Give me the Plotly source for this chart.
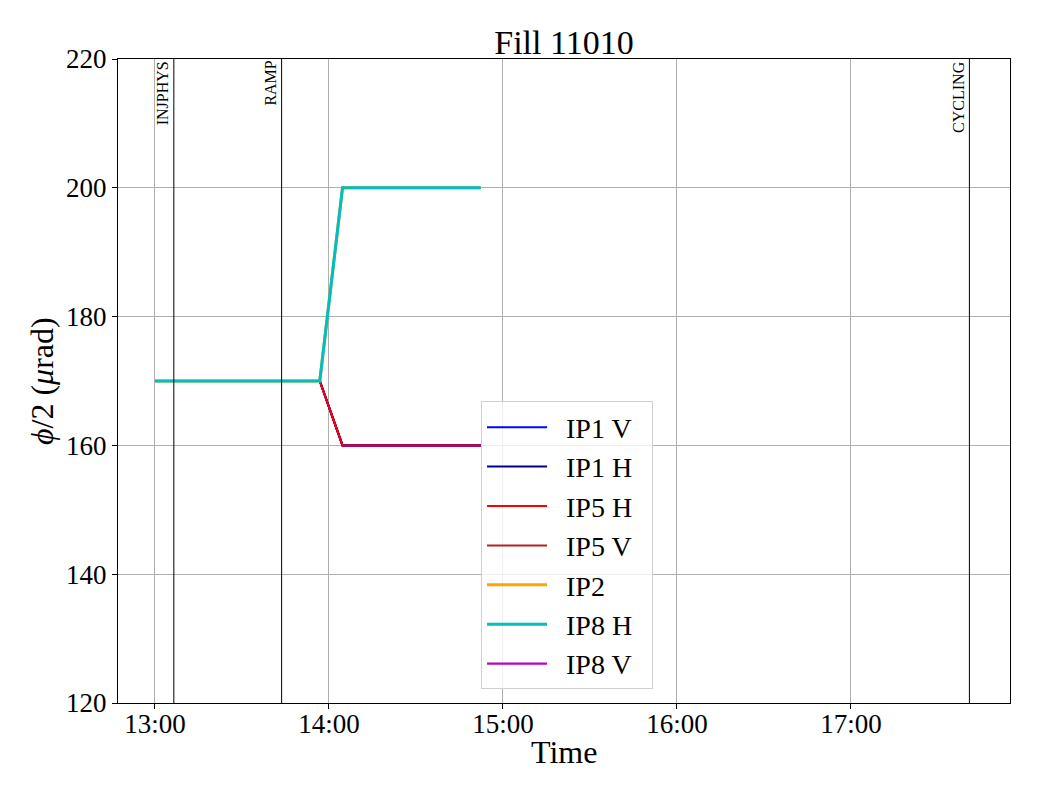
import plotly.graph_objects as go

day = "2024-06-01 "
t_down = ["13:00:00", "13:56:50", "14:04:40", "14:52:20"]
v_down = [170, 170, 160, 160]
t_up = ["13:00:00", "13:56:50", "14:04:40", "14:52:20"]
v_up = [170, 170, 200, 200]

series_names = ["IP1 V", "IP1 H", "IP5 H", "IP5 V", "IP2", "IP8 H", "IP8 V"]
series_colors = ["#0000ff", "#00008b", "#ff0000", "#b22222", "#ffa500", "#00bfbf", "#bf00bf"]
series_widths = [2, 2, 2, 2, 3, 3, 3]
series_path = ["down", "down", "down", "down", "up", "up", "down"]
draw_order = [3, 6, 0, 1, 2, 4, 5]

event_names = ["INJPHYS", "RAMP", "CYCLING"]
event_times = ["13:06:30", "13:43:40", "17:40:50"]

x_range = ["12:47:15", "17:54:50"]
y_range = [120, 220]
y_ticks = [120, 140, 160, 180, 200, 220]
x_ticks = ["13:00:00", "14:00:00", "15:00:00", "16:00:00", "17:00:00"]

fig = go.Figure()
for i in draw_order:
    name, col, w, p = series_names[i], series_colors[i], series_widths[i], series_path[i]
    if i == 6:
        w = 2.2
    if p == "down":
        xs, ys = [day + t for t in t_down], v_down
    else:
        xs, ys = [day + t for t in t_up], v_up
    fig.add_trace(go.Scatter(x=xs, y=ys, mode="lines", name="\u2002" + name + "\u2002",
                             legendrank=i + 1, line=dict(color=col, width=w)))

for name, t in zip(event_names, event_times):
    fig.add_shape(type="line", xref="x", yref="paper", x0=day + t, x1=day + t,
                  y0=0, y1=1, line=dict(color="black", width=1))
    fig.add_annotation(x=day + t, y=1, xref="x", yref="paper", text=name,
                       textangle=-90, showarrow=False, xanchor="right", yanchor="top",
                       xshift=-1, font=dict(size=16, color="black", family="Liberation Serif"))

fig.add_annotation(x=0.5, y=-0.076, xref="paper", yref="paper", text="Time",
                   showarrow=False, xanchor="center", yanchor="middle",
                   font=dict(size=32))
fig.add_annotation(x=-0.0852, y=0.5, xref="paper", yref="paper",
                   text="<i>ϕ</i>/2 (<i>μ</i>rad)", textangle=-90,
                   showarrow=False, xanchor="center", yanchor="middle",
                   font=dict(size=32))

fig.update_layout(
    width=1040, height=800,
    paper_bgcolor="white", plot_bgcolor="white",
    margin=dict(l=118, r=30, t=59, b=97, autoexpand=False),
    font=dict(family="Liberation Serif", color="black", size=27),
    title=dict(text="Fill 11010", x=0.5, xref="paper", xanchor="center",
               y=1 - 42 / 800, yanchor="middle", font=dict(size=34)),
    legend=dict(x=0.407, y=0.021, xanchor="left", yanchor="bottom",
                bgcolor="rgba(255,255,255,0.8)", bordercolor="#d0d0d0", borderwidth=1,
                font=dict(size=28), itemwidth=60, tracegroupgap=0),
    showlegend=True,
)
fig.update_xaxes(type="date", range=[day + x_range[0], day + x_range[1]],
                 tickvals=[day + t for t in x_ticks], tickformat="%H:%M",
                 showgrid=True, gridcolor="#b0b0b0", gridwidth=1,
                 showline=True, linecolor="black", linewidth=1, mirror=True,
                 ticks="outside", ticklen=5, tickcolor="black", automargin=False,
                 ticklabelstandoff=-8, tickfont=dict(size=27), zeroline=False)
fig.update_yaxes(range=y_range, tickvals=y_ticks,
                 showgrid=True, gridcolor="#b0b0b0", gridwidth=1,
                 showline=True, linecolor="black", linewidth=1, mirror=True,
                 ticks="outside", ticklen=5, tickcolor="black", automargin=False,
                 tickfont=dict(size=27), zeroline=False)

fig.write_html("out.html", config={"displayModeBar": False},
               post_script="document.body.style.margin='0';")
